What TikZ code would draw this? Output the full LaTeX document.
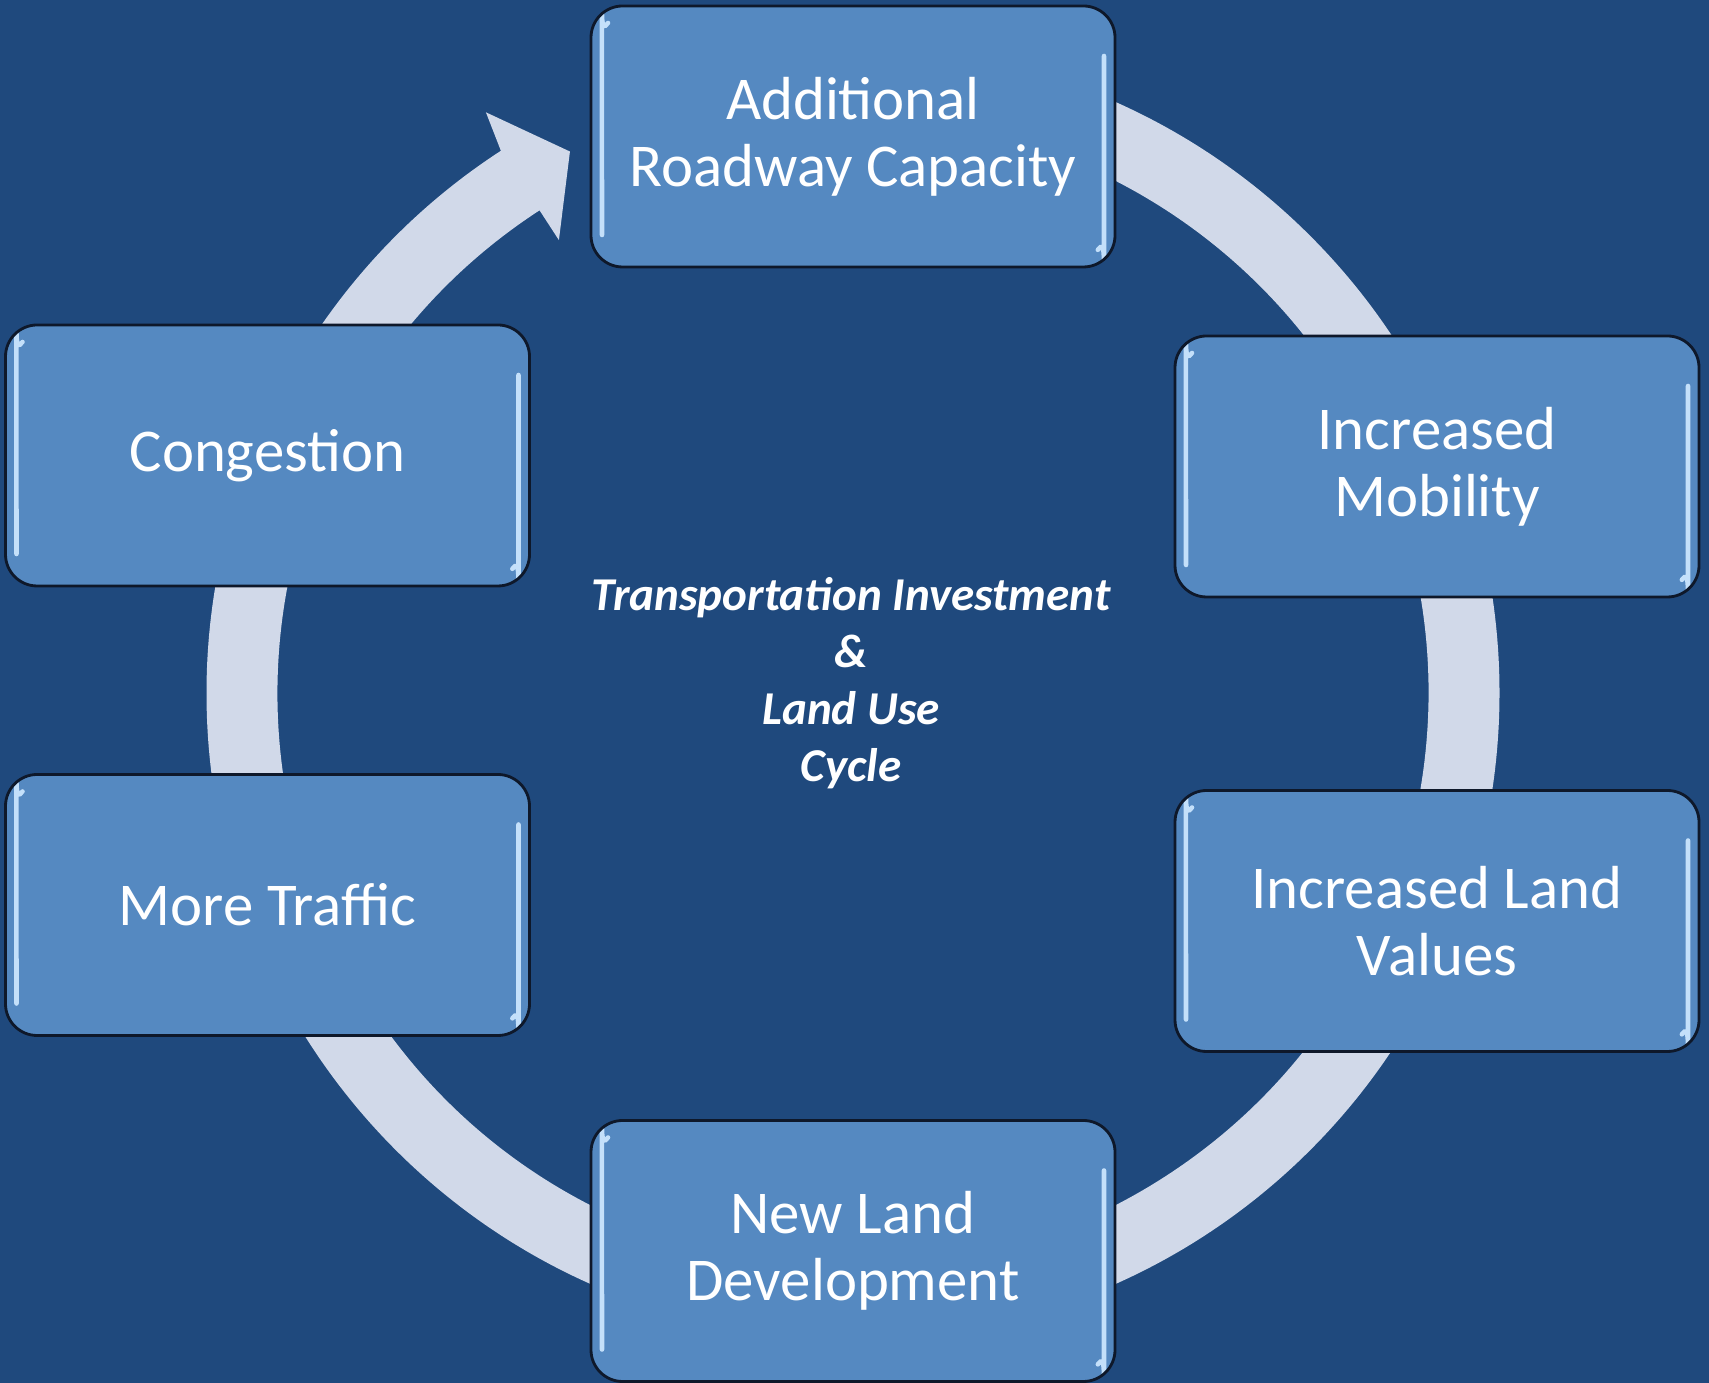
\documentclass[tikz,border=0pt]{standalone}
\usepackage{fontspec}
\setmainfont{Carlito}
\definecolor{bgblue}{RGB}{31,73,125}
\definecolor{boxblue}{RGB}{85,137,193}
\definecolor{ringgray}{RGB}{209,217,233}
\definecolor{rimdark}{RGB}{14,24,42}
\definecolor{glintblue}{RGB}{196,224,250}
\tikzset{glint/.style = {draw=glintblue,
                         line width=1.3pt,
                         line cap=round}}

\begin{document}
\begin{tikzpicture}[cyclebox/.style = {shape = rectangle,
                                       rounded corners = 9pt,
                                       fill = boxblue,
                                       draw = rimdark,
                                       line width = 0.8pt,
                                       minimum width = 5.24cm,
                                       minimum height = 2.61cm,
                                       inner sep = 0pt,
                                       text = white,
                                       align = center,
                                       font = \fontsize{17.3}{19}\selectfont,
                                       path picture = {
      \draw[glint] ([xshift=0.17cm,yshift=-0.17cm]path picture bounding box.north west)
         arc[start angle=135, end angle=180, radius=0.21cm]
         -- ([xshift=0.11cm,yshift=0.32cm]path picture bounding box.south west);
      \draw[glint] ([xshift=-0.11cm,yshift=-0.5cm]path picture bounding box.north east)
         -- ([xshift=-0.11cm,yshift=0.32cm]path picture bounding box.south east)
         arc[start angle=0, end angle=-45, radius=0.21cm];}},
                    hubtext/.style = {text = white,
                                      align = center,
                                      font = \fontsize{13.4}{16.2}\selectfont\bfseries\itshape}]
		\fill[bgblue] (0,0) rectangle (17.09,13.83);
		\useasboundingbox (0,0) rectangle (17.09,13.83);
		% the cycle ring with its arrow head
		\begin{scope}[shift={(8.53,6.9)}]
			\fill[ringgray] (90:6.465) arc[start angle=90, end angle=-237, radius=6.465]
				-- (-237.7:6.87) -- (-242.4:6.11) -- (-237:5.4) -- (-237:5.755)
				arc[start angle=-237, end angle=90, radius=5.755] -- cycle;
		\end{scope}
		\node[cyclebox] (capacity) at (8.53,12.465) {Additional\\Roadway Capacity};
		\node[cyclebox] (mobility) at (14.37,9.165) {Increased\\Mobility};
		\node[cyclebox] (values) at (14.37,4.62) {Increased Land\\Values};
		\node[cyclebox] (develop) at (8.53,1.32) {New Land\\Development};
		\node[cyclebox] (traffic) at (2.675,4.78) {More Traffic};
		\node[cyclebox] (congestion) at (2.675,9.275) {Congestion};
		\node[hubtext] (hub) at (8.51,7.0) {Transportation Investment\\\&\\Land Use\\ Cycle};
	\end{tikzpicture}
\end{document}
